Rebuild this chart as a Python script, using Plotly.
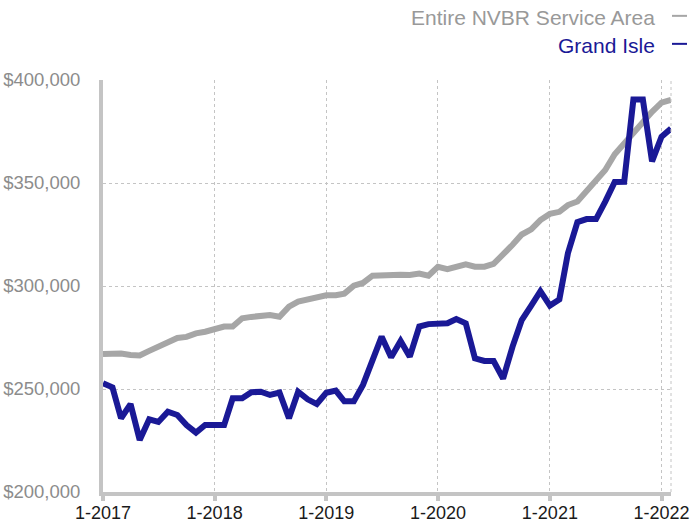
import pandas as pd
import plotly.graph_objects as go

months = pd.date_range("2017-01-01", periods=62, freq="MS")

nvbr_area = [267.0, 267.3, 267.2, 266.5, 266.3, 268.5, 270.5, 272.5, 274.8, 275.3,
             277.0, 277.8, 279.2, 280.3, 280.3, 284.3, 285.0, 285.5, 285.9, 285.1,
             290.0, 292.4, 293.5, 294.5, 295.5, 295.5, 296.3, 300.2, 301.5, 305.0,
             305.3, 305.7, 305.5, 305.3, 306.0, 305.0, 309.3, 308.2, 309.3, 310.5,
             309.4, 309.4, 310.7, 315.0, 320.0, 325.0, 327.5, 332.0, 335.0, 336.0,
             339.3, 341.0, 345.8, 350.6, 356.3, 364.0, 369.3, 374.0, 379.8, 384.6,
             389.0, 390.3]

grand_isle = [252.8, 250.8, 235.8, 242.7, 225.2, 235.3, 234.0, 239.0, 237.4, 232.5,
              228.8, 232.5, 232.5, 232.5, 245.5, 245.5, 248.4, 248.7, 247.1, 248.3,
              235.8, 248.7, 245.0, 242.7, 248.2, 249.2, 244.0, 244.0, 252.0, 263.5,
              275.4, 265.4, 273.3, 265.7, 280.3, 281.5, 281.5, 281.9, 284.0, 281.9,
              264.9, 263.6, 263.6, 255.0, 270.6, 283.5, 290.5, 297.5, 290.5, 293.5,
              315.9, 331.0, 332.5, 332.5, 341.0, 350.5, 350.6, 390.5, 390.5, 360.5,
              372.5, 376.5]

tick_dates = ["2017-01-01", "2018-01-01", "2019-01-01", "2020-01-01", "2021-01-01", "2022-01-01"]
tick_text = ["1-2017", "1-2018", "1-2019", "1-2020", "1-2021", "1-2022"]

series_names = ["Entire NVBR Service Area", "Grand Isle"]
grey = "#a6a6a6"
blue = "#1a1996"

fig = go.Figure()
fig.add_trace(go.Scatter(x=months, y=[v * 1000 for v in nvbr_area], mode="lines",
                         name=series_names[0], line=dict(color=grey, width=6)))
fig.add_trace(go.Scatter(x=months, y=[v * 1000 for v in grand_isle], mode="lines",
                         name=series_names[1], line=dict(color=blue, width=6)))

font_family = "Liberation Sans, Arial, sans-serif"

fig.update_layout(
    width=692, height=525,
    margin=dict(l=103, r=21, t=80, b=33, autoexpand=False),
    paper_bgcolor="white", plot_bgcolor="white",
    showlegend=False,
    font=dict(family=font_family),
    xaxis=dict(
        type="date", automargin=False,
        range=["2017-01-01", "2022-02-01"],
        tickvals=tick_dates, ticktext=tick_text,
        showgrid=True, gridcolor="#c4c4c4", gridwidth=1, griddash="dot",
        showline=True, linecolor="#c4c4c4", linewidth=4,
        ticks="outside", ticklen=5, tickwidth=4, tickcolor="#c4c4c4",
        ticklabelstandoff=-4,
        tickfont=dict(size=18, color="#1a1a1a"),
        zeroline=False,
    ),
    yaxis=dict(
        automargin=False,
        range=[200000, 400000], dtick=50000, tick0=200000,
        tickprefix="$", tickformat=",d",
        showgrid=True, gridcolor="#c4c4c4", gridwidth=1, griddash="dot",
        showline=True, linecolor="#c4c4c4", linewidth=4,
        ticks="", ticklabelstandoff=15,
        tickfont=dict(size=18.5, color="#8c8c8c"),
        zeroline=False,
    ),
)

# right border dotted line
fig.add_shape(type="line", xref="paper", yref="paper", x0=1, x1=1, y0=0, y1=1,
              line=dict(color="#c4c4c4", width=1, dash="dot"))

# custom legend (text right-aligned, dash after)
legend_rows = [(series_names[0], grey, "#999999", 17.5), (series_names[1], blue, blue, 45.5)]
for name, lc, tc, py in legend_rows:
    yp = (492 - py) / 412
    fig.add_annotation(text=name, xref="paper", yref="paper",
                       x=(657 - 103) / 568, y=yp, xanchor="right", yanchor="middle",
                       showarrow=False, font=dict(size=21, color=tc, family=font_family))
    fig.add_shape(type="line", xref="paper", yref="paper",
                  x0=(672 - 103) / 568, x1=(687 - 103) / 568, y0=yp + 0.004, y1=yp + 0.004,
                  line=dict(color=lc, width=2))

fig.write_html("out.html", config={"displayModeBar": False},
               post_script="document.body.style.margin='0';document.body.style.overflow='hidden';")
